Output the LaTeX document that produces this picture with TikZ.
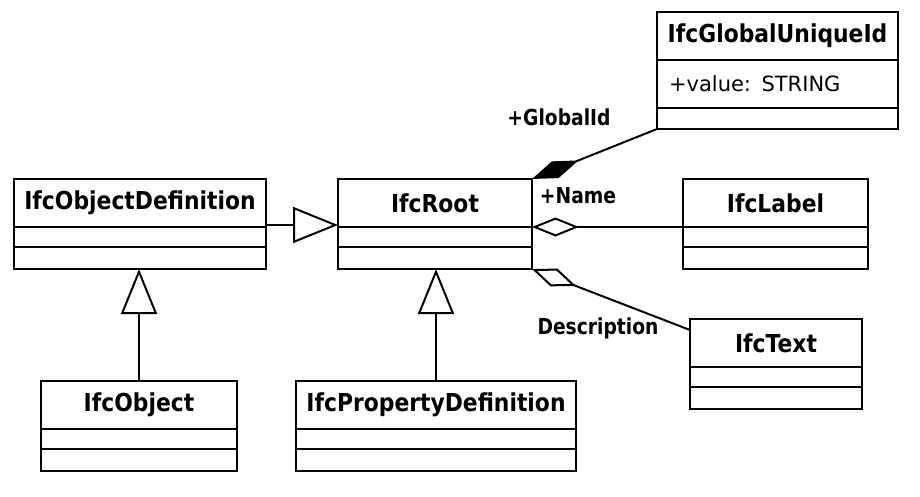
\documentclass[tikz,border=0pt]{standalone}
\usepackage{fontspec}
\usepackage{tikz}
\usetikzlibrary{positioning,arrows.meta}
\newfontfamily\classfont[FakeStretch=0.885]{DejaVu Sans}
\newfontfamily\attrfont{DejaVu Sans}
\newfontfamily\rolefont[FakeStretch=0.85]{DejaVu Sans}

\begin{document}
\begin{tikzpicture}[x=1pt, y=-1pt, line width=2pt,
	head/.style={draw, inner sep=0pt, outer sep=0pt, minimum height=48pt, font=\classfont\bfseries\fontsize{24.7}{26}\selectfont},
	comp/.style={draw, inner sep=0pt, outer sep=0pt, minimum height=20pt},
	compops/.style={comp, minimum height=22pt},
	role/.style={inner sep=0pt, font=\rolefont\bfseries\fontsize{22}{24}\selectfont},
	inherit/.style={-{Triangle[open, length=45pt, width=36pt]}},
	shared/.style={-{Diamond[open, length=47pt, width=19pt]}},
	owned/.style={-{Diamond[length=50pt, width=18pt]}}]
			\useasboundingbox (0,0) rectangle (920,496);
			\node[head, minimum width=252pt] at (140,203) (od){IfcObjectDefinition};
			\node[comp, minimum width=252pt, below=0pt of od] (od2){};
			\node[compops, minimum width=252pt, below=0pt of od2] (od3){};
			\node[head, minimum width=194pt] at (435,203) (root){IfcRoot};
			\node[comp, minimum width=194pt, below=0pt of root] (root2){};
			\node[compops, minimum width=194pt, below=0pt of root2] (root3){};
			\node[head, minimum width=196pt] at (139,405) (obj){IfcObject};
			\node[comp, minimum width=196pt, below=0pt of obj] (obj2){};
			\node[compops, minimum width=196pt, below=0pt of obj2] (obj3){};
			\node[head, minimum width=280pt] at (436,405) (pd){IfcPropertyDefinition};
			\node[comp, minimum width=280pt, below=0pt of pd] (pd2){};
			\node[compops, minimum width=280pt, below=0pt of pd2] (pd3){};
			\node[head, minimum width=241pt] at (777.5,36) (gid){IfcGlobalUniqueId};
			\node[comp, minimum height=48pt, text width=217pt, inner xsep=12pt, align=left, font=\attrfont\fontsize{21}{24}\selectfont, below=0pt of gid] (gid2){+value: STRING};
			\node[compops, minimum width=241pt, minimum height=21pt, below=0pt of gid2] (gid3){};
			\node[head, minimum width=185pt] at (775.5,203) (lab){IfcLabel};
			\node[comp, minimum width=185pt, below=0pt of lab] (lab2){};
			\node[compops, minimum width=185pt, below=0pt of lab2] (lab3){};
			\node[head, minimum width=172pt] at (776,343) (txt){IfcText};
			\node[comp, minimum width=172pt, below=0pt of txt] (txt2){};
			\node[compops, minimum width=172pt, below=0pt of txt2] (txt3){};
			\draw[inherit] ([yshift=2pt]od.south east) -- ([yshift=2pt]root.south west);
			\draw[inherit] (obj.north) -- (obj.north |- od3.south);
			\draw[inherit] (pd.north) -- (pd.north |- root3.south);
			\draw[owned] (gid3.south west) -- (root.north east);
			\draw[shared] (lab.south west) -- (root.south east);
			\draw[shared] ([yshift=-11pt]txt.north west) -- (root3.south east);
			\node[role] at (559,117) (globalid){+GlobalId};
			\node[role] at (578,196) (name){+Name};
			\node[role] at (598,328) (descr){Description};
		\end{tikzpicture}
\end{document}
